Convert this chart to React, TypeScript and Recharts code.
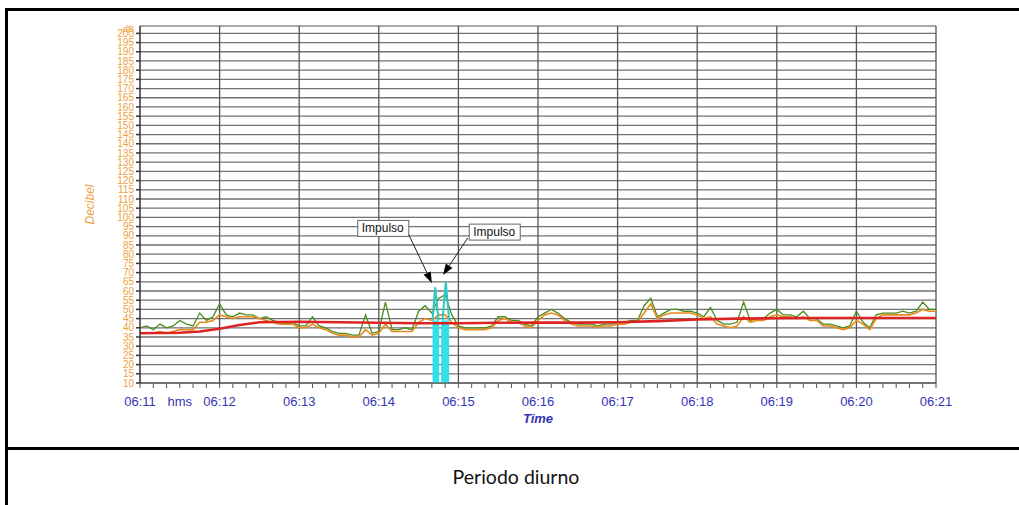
import {
  ComposedChart, Line, XAxis, YAxis, CartesianGrid,
  ReferenceLine, ReferenceArea, ReferenceDot, Label
} from 'recharts';

// seconds after 06:11:00, sampled every 5 s
const seconds = [
  0, 5, 10, 15, 20, 25, 30, 35, 40, 45, 50, 55, 60, 65, 70, 75, 80, 85, 90, 95,
  100, 105, 110, 115, 120, 125, 130, 135, 140, 145, 150, 155, 160, 165, 170, 175, 180, 185, 190, 195,
  200, 205, 210, 215, 220, 225, 230, 235, 240, 245, 250, 255, 260, 265, 270, 275, 280, 285, 290, 295,
  300, 305, 310, 315, 320, 325, 330, 335, 340, 345, 350, 355, 360, 365, 370, 375, 380, 385, 390, 395,
  400, 405, 410, 415, 420, 425, 430, 435, 440, 445, 450, 455, 460, 465, 470, 475, 480, 485, 490, 495,
  500, 505, 510, 515, 520, 525, 530, 535, 540, 545, 550, 555, 560, 565, 570, 575, 580, 585, 590, 595,
  600,
];

// green trace (fast level)
const greenDb = [
  40, 41, 39, 42, 40, 41, 44, 42, 41, 48,
  44, 46, 53, 47, 46, 48, 47, 47, 45, 46,
  44, 43, 42, 43, 41, 41, 46, 41, 40, 38,
  37, 37, 36, 36, 47, 37, 38, 54, 39, 39,
  40, 39, 49, 52, 48, 56, 58, 47, 41, 40,
  40, 40, 40, 41, 46, 46, 44, 44, 42, 41,
  46, 48, 50, 48, 45, 43, 42, 42, 42, 41,
  42, 42, 43, 43, 44, 44, 52, 56, 46, 48,
  50, 50, 49, 49, 48, 46, 51, 44, 42, 42,
  43, 54, 44, 45, 45, 48, 50, 47, 47, 46,
  49, 45, 45, 42, 42, 41, 40, 41, 49, 43,
  40, 47, 48, 48, 48, 49, 48, 49, 54, 50,
  50,
];

// orange trace (slow level)
const orangeDb = [
  37, 37, 37, 38, 37, 38, 39, 39, 39, 43,
  43, 44, 47, 46, 45, 46, 46, 46, 45, 44,
  43, 42, 42, 42, 40, 40, 42, 40, 39, 37,
  36, 36, 35, 35, 39, 36, 37, 42, 38, 38,
  38, 38, 43, 45, 44, 47, 47, 43, 40, 39,
  39, 39, 39, 40, 44, 45, 43, 43, 41, 40,
  44, 47, 48, 47, 44, 42, 41, 41, 41, 40,
  41, 41, 42, 42, 43, 43, 48, 53, 45, 47,
  48, 48, 48, 48, 47, 45, 46, 42, 41, 40,
  41, 46, 43, 44, 44, 46, 47, 46, 46, 45,
  46, 44, 44, 41, 41, 40, 39, 40, 44, 42,
  39, 45, 47, 47, 47, 47, 47, 48, 50, 49,
  49,
];

// red running Leq
const leqSeconds = [0, 30, 45, 60, 75, 90, 120, 150, 180, 210, 240, 270, 300, 330, 360, 390, 420, 450, 480, 510, 540, 570, 600];
const leqDb = [37, 37.3, 38, 39.5, 41.5, 43, 43.3, 43, 42.7, 42.5, 42.5, 42.7, 42.8, 42.8, 43, 43.6, 44.5, 45, 45.2, 45.3, 45.3, 45.3, 45.3];

// impulse events (cyan)
const impulseStart = [220.5, 227];
const impulseEnd = [225.5, 233];
const impulseBaseDb = [44, 44];
const impulseSpikeSeconds = [220.5, 222.5, 225, 226, 228, 230.5, 233];
const impulseSpikeDb = [44, 62, 44, null, 44, 65, 44];

// annotations
const noteText = ['Impulso', 'Impulso'];
const noteSeconds = [183, 267];
const noteDb = [94, 92];
const arrowFromSeconds = [202, 247];
const arrowFromDb = [91.5, 88.8];
const arrowToSeconds = [220, 228.4];
const arrowToDb = [64.3, 68.7];

const yTicks = [
  10, 15, 20, 25, 30, 35, 40, 45, 50, 55, 60, 65, 70, 75, 80, 85, 90, 95, 100,
  105, 110, 115, 120, 125, 130, 135, 140, 145, 150, 155, 160, 165, 170, 175, 180, 185, 190, 195, 200,
];
const xTicks = [
  0, 10, 20, 30, 40, 50, 60, 70, 80, 90, 100, 110, 120, 130, 140, 150, 160, 170, 180, 190,
  200, 210, 220, 230, 240, 250, 260, 270, 280, 290, 300, 310, 320, 330, 340, 350, 360, 370, 380, 390,
  400, 410, 420, 430, 440, 450, 460, 470, 480, 490, 500, 510, 520, 530, 540, 550, 560, 570, 580, 590,
  600,
];
const minuteSeconds = [0, 60, 120, 180, 240, 300, 360, 420, 480, 540, 600];
const minuteLabels = ['06:11', '06:12', '06:13', '06:14', '06:15', '06:16', '06:17', '06:18', '06:19', '06:20', '06:21'];
const unitSecond = 30;
const unitLabel = 'hms';

const data = seconds.map((t, i) => ({ t, g: greenDb[i], o: orangeDb[i] }));
const leqData = leqSeconds.map((t, i) => ({ t, v: leqDb[i] }));
const spikeData = impulseSpikeSeconds.map((t, i) => ({ t, v: impulseSpikeDb[i] }));

const NARROW = '"Liberation Sans Narrow", "Liberation Sans", Arial, sans-serif';
const ORANGE = '#eba23c';
const BLUE = '#3434b4';

function formatX(v: number) {
  const i = minuteSeconds.indexOf(v);
  if (i >= 0) return minuteLabels[i];
  if (v === unitSecond) return unitLabel;
  return '';
}

const Arrow = (p: any) => {
  const { x1, y1, x2, y2 } = p;
  const a = Math.atan2(y2 - y1, x2 - x1);
  const len = 11, half = 4;
  const bx = x2 - len * Math.cos(a), by = y2 - len * Math.sin(a);
  const nx = -Math.sin(a) * half, ny = Math.cos(a) * half;
  return (
    <g>
      <line x1={x1} y1={y1} x2={bx} y2={by} stroke="#222" strokeWidth={1} />
      <polygon points={`${x2},${y2} ${bx + nx},${by + ny} ${bx - nx},${by - ny}`} fill="#000" />
    </g>
  );
};

const NoteBox = (text: string) => (p: any) => (
  <g>
    <rect x={p.cx - 25} y={p.cy - 8} width={51} height={16} fill="#fff" stroke="#666" strokeWidth={1} />
    <text x={p.cx} y={p.cy + 4} textAnchor="middle" fontSize={12} fontFamily={NARROW} fill="#111">{text}</text>
  </g>
);

const UnitText = (p: any) => (
  <text x={p.cx - 6} y={p.cy - 1} textAnchor="end" fontSize={9} fontFamily={NARROW} fill={ORANGE}>dB</text>
);

export default function App() {
  return (
    <div style={{ position: 'absolute', left: 0, top: 0, width: 1019, height: 505, background: '#fff', overflow: 'hidden' }}>
      {/* table frame */}
      <div style={{ position: 'absolute', left: 5, top: 8, width: 1014, height: 2.5, background: '#000' }} />
      <div style={{ position: 'absolute', left: 5, top: 8, width: 2.5, height: 497, background: '#000' }} />
      <div style={{ position: 'absolute', left: 5, top: 447, width: 1014, height: 2.5, background: '#000' }} />

      <div style={{ position: 'absolute', left: 0, top: 0 }}>
        <ComposedChart
          width={1019}
          height={440}
          data={data}
          margin={{ top: 26, right: 83, bottom: 17, left: 0 }}
          style={{ fontFamily: NARROW }}
        >
          <CartesianGrid vertical={false} stroke="#727272" strokeWidth={1.3} />

          <XAxis
            dataKey="t"
            type="number"
            domain={[0, 600]}
            ticks={xTicks}
            interval={0}
            tickFormatter={formatX}
            tickSize={5}
            tickMargin={9}
            height={40}
            stroke="#555"
            tick={{ fill: BLUE, fontSize: 13, fontFamily: NARROW }}
          >
            <Label value="Time" position="insideBottom" offset={0}
              style={{ fill: BLUE, fontSize: 13, fontStyle: 'italic', fontWeight: 'bold', fontFamily: NARROW }} />
          </XAxis>

          <YAxis
            type="number"
            domain={[10, 204]}
            ticks={yTicks}
            interval={0}
            width={140}
            tickSize={4}
            tickMargin={2}
            stroke="#333"
            strokeWidth={1.5}
            tick={{ fill: ORANGE, fontSize: 10, fontFamily: NARROW }}
          >
            <Label value="Decibel" angle={-90} position="insideLeft" offset={90}
              style={{ textAnchor: 'middle', fill: ORANGE, fontSize: 12, fontStyle: 'italic', fontFamily: NARROW }} />
          </YAxis>

          {/* chart top frame */}
          <ReferenceLine y={204} stroke="#b0b0b0" strokeWidth={1.5} />

          {minuteSeconds.slice(1).map((s) => (
            <ReferenceLine key={s} x={s} stroke="#555" strokeWidth={1.3} />
          ))}

          {impulseStart.map((s, i) => (
            <ReferenceArea key={`imp${i}`} x1={s} x2={impulseEnd[i]} y1={10} y2={impulseBaseDb[i]}
              fill="#33e0ea" fillOpacity={1} stroke="none" />
          ))}

          <Line type="linear" dataKey="g" stroke="#4c8c1c" strokeWidth={1.3} dot={false} isAnimationActive={false} />
          <Line type="linear" dataKey="o" stroke="#e88a1c" strokeWidth={1.6} dot={false} isAnimationActive={false} />
          <Line type="linear" data={leqData} dataKey="v" stroke="#dc2424" strokeWidth={2.6} dot={false} isAnimationActive={false} />
          <Line type="linear" data={spikeData} dataKey="v" stroke="#2cc8c4" strokeWidth={2} dot={false}
            connectNulls={false} isAnimationActive={false} />

          {noteText.map((txt, i) => (
            <ReferenceLine key={`arr${i}`}
              segment={[{ x: arrowFromSeconds[i], y: arrowFromDb[i] }, { x: arrowToSeconds[i], y: arrowToDb[i] }]}
              shape={Arrow} />
          ))}
          {noteText.map((txt, i) => (
            <ReferenceDot key={`note${i}`} x={noteSeconds[i]} y={noteDb[i]} shape={NoteBox(txt)} />
          ))}

          <ReferenceDot x={0} y={200} ifOverflow="visible" shape={UnitText} />
        </ComposedChart>
      </div>

      <div style={{
        position: 'absolute', left: 0, width: 1032, top: 465, textAlign: 'center',
        fontFamily: 'Lato, "Open Sans", sans-serif', fontSize: 19.5, color: '#111',
      }}>
        Periodo diurno
      </div>
    </div>
  );
}
